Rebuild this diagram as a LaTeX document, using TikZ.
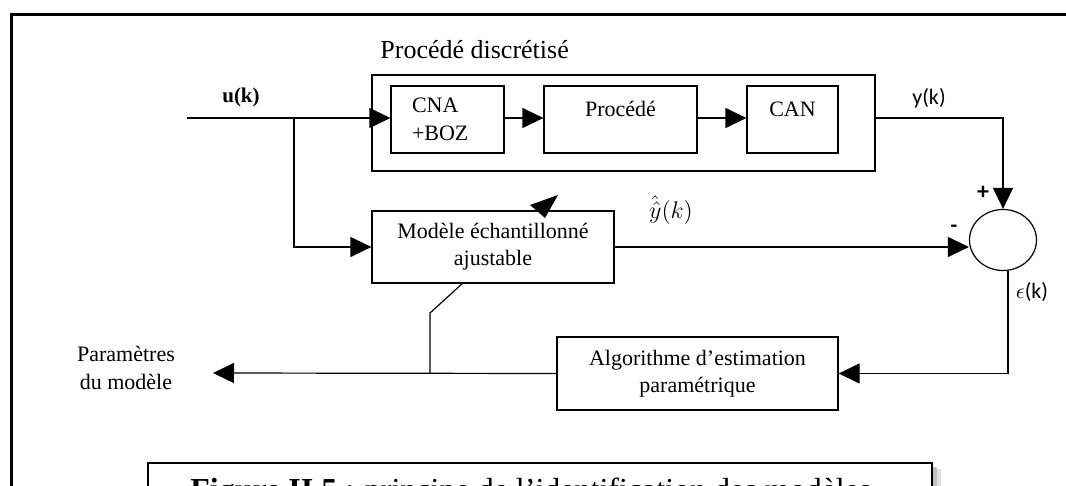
\documentclass[tikz,border=0pt]{standalone}
\usepackage{fontspec}
\setmainfont{Liberation Serif}
\newfontfamily\carl{Carlito}
\usetikzlibrary{arrows.meta,shapes.geometric,calc}
\begin{document}
\begin{tikzpicture}[x=0.5pt,y=-0.5pt,
  blk/.style={draw,line width=0.6pt,fill=white,inner sep=0pt,align=center,
    font=\fontsize{11}{13.6}\selectfont},
  ln/.style={line width=0.6pt},
  arr/.style={ln,-{Triangle[length=10.5pt,width=10pt]}},
  lbl/.style={font=\fontsize{11}{13.6}\selectfont,inner sep=0pt},
  sans/.style={font=\carl\fontsize{11}{13}\selectfont,inner sep=0pt}
]
\path[use as bounding box] (0,0) rectangle (1066,486);
\clip (0,0) rectangle (1066,486);
\fill[white] (0,0) rectangle (1066,486);
% outer frame
\draw[line width=1.5pt] (11,700) -- (11,15) -- (1200,15);

% blocks
\node[blk,minimum width=251.5pt,minimum height=48pt] (outer) at (623.5,123) {};
\node[lbl,anchor=west,font=\fontsize{13}{15}\selectfont] (title) at (380,50) {Procédé discrétisé};
\node[blk,minimum width=56.5pt,minimum height=33.5pt,text width=35.5pt,
      inner xsep=10.5pt,align=left,font=\fontsize{11}{14}\selectfont] (cna) at (447.5,119.5) {CNA\\+BOZ};
\node[blk,minimum width=76.5pt,minimum height=33.5pt] (procd) at (620.5,119.5) {Procédé\\[-3pt]\mbox{}};
\node[blk,minimum width=45.5pt,minimum height=33.5pt] (can) at (792.5,119.5) {CAN\\[-3pt]\mbox{}};

% adjustable model (oblique arrow behind)
\coordinate (jn) at (430,373);
\coordinate (jb) at (430,313);
\coordinate (mb) at (463,283);
\draw[ln] (jn) -- (jb) -- (mb);
\node[blk,minimum width=121pt,minimum height=36pt] (model) at (493,247) {Modèle échantillonné\\ajustable};
\fill (530,205) -- (558,195) -- (545,218) -- cycle;

\node[draw,ellipse,line width=0.6pt,minimum width=33.5pt,minimum height=30.5pt,inner sep=0pt] (sum) at (1003,240) {};
\node[blk,minimum width=140.5pt,minimum height=36.5pt] (algo) at (697.5,373.5) {Algorithme d’estimation\\paramétrique};

% labels
\node[lbl,font=\bfseries\fontsize{10.5}{12}\selectfont] (ulab) at (241,97) {u(k)};
\node[sans] (ylab) at (929,98) {y(k)};
\node[lbl,font=\fontsize{12}{14}\selectfont] (yhat) at (671,210) {$\hat{\hat{y}}(k)$};
\node[sans,font=\carl\bfseries\fontsize{12}{13}\selectfont] (plus) at (983,193) {+};
\node[sans,font=\carl\bfseries\fontsize{11}{13}\selectfont] (minus) at (954,229) {-};
\node[sans] (elab) at (1032,292) {$\epsilon$(k)};
\node[lbl,align=center] (params) at (126,368) {Paramètres\\du modèle};

% connectors
\coordinate (uin) at (187,118);
\coordinate (br) at (294,118);
\coordinate (pout) at (213,373);
\draw[arr] (uin) -- (uin -| cna.west);
\draw[arr] (br) |- (model.west);
\draw[arr] (cna.east |- uin) -- (procd.west |- uin);
\draw[arr] (procd.east |- uin) -- (can.west |- uin);
\draw[arr] (outer.east |- uin) -| (sum.north);
\draw[arr] (model.east) -- (sum.west |- model.east);
\draw[arr] ($(sum.south)+(5,0)$) |- (algo.east);
\draw[arr] (algo.west) -- (pout);

% caption (cut off by the page edge)
\fill[gray!50] (932,467) rectangle (937,540);
\fill[gray!25] (937,469) rectangle (941,540);
\draw[line width=0.7pt,fill=white] (148,463) rectangle (932,540);
\node[anchor=base west,inner sep=0pt,font=\fontsize{16}{18}\selectfont] (cap) at (190,500)
  {\textbf{Figure II.5} : principe de l’identification des modèles};
\end{tikzpicture}
\end{document}
